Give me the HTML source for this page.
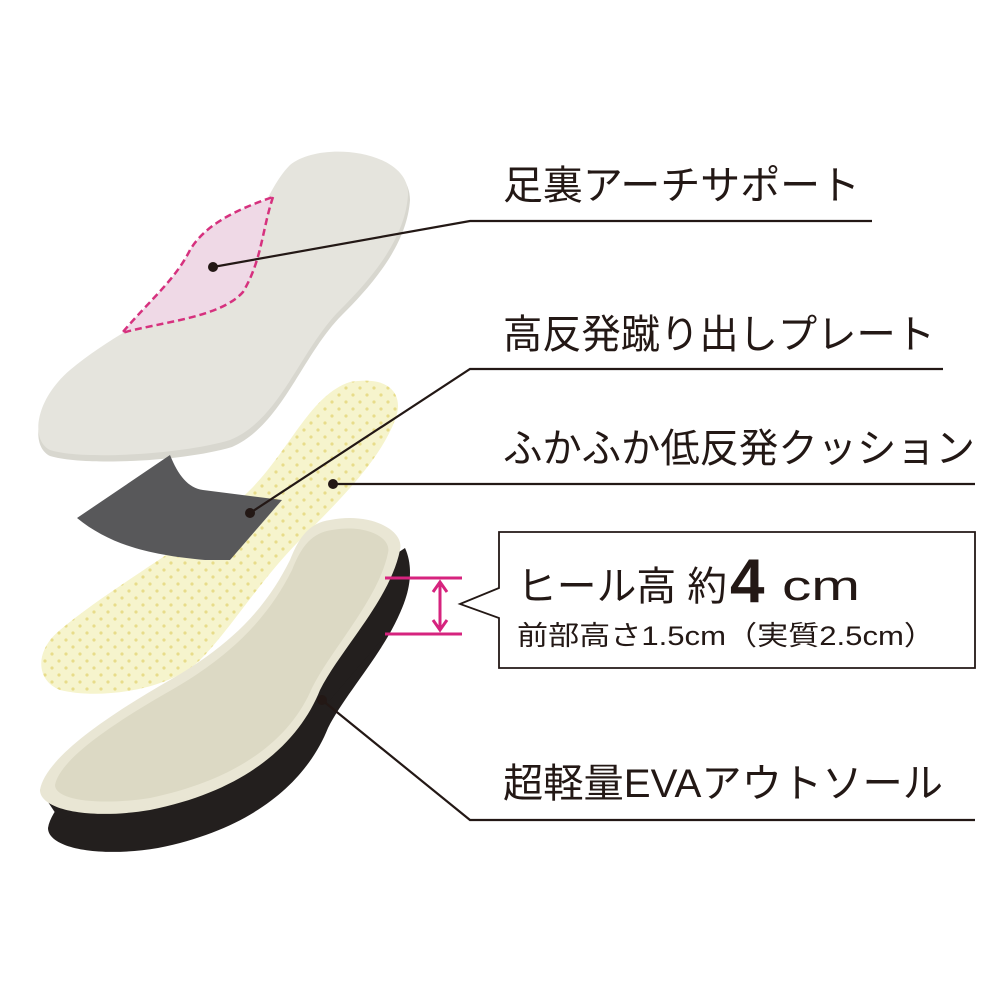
<!DOCTYPE html>
<html><head><meta charset="utf-8"><style>
html,body{margin:0;padding:0;background:#fff;}
svg{display:block}
text{font-family:"Liberation Sans","Noto Sans CJK JP",sans-serif;fill:#231815;}
</style></head><body>
<svg width="1000" height="1000" viewBox="0 0 1000 1000" xmlns="http://www.w3.org/2000/svg">
<defs>
<pattern id="dots" width="14" height="14" patternUnits="userSpaceOnUse">
<circle cx="3" cy="3" r="1.6" fill="#e8dc8a"/>
<circle cx="10" cy="10" r="1.6" fill="#e8dc8a"/>
</pattern>
</defs>

<path d="M290,172 C320,143 410,150 410,200 C407,245 372,285 342,315 C302,355 282,425 232,447 C182,462 82,466 50,456 C30,446 35,406 70,376 C130,326 200,306 240,256 C260,226 270,192 290,172Z" fill="#d8d7cf"/>
<path d="M290,165 C320,140 410,150 408,195 C405,240 370,280 340,310 C300,350 280,420 230,440 C180,455 80,460 50,450 C30,440 35,400 70,370 C130,320 200,300 240,250 C260,220 270,185 290,165Z" fill="#e5e4dd"/>
<path d="M273,197 C262,230 262,260 243,292 C220,318 160,322 122,333 C150,300 175,280 190,250 C205,225 235,210 273,197Z" fill="#efd9e6" stroke="#d6317e" stroke-width="2.5" stroke-dasharray="7,4"/>

<path d="M350,382 C390,375 405,395 395,420 C380,460 340,500 300,540 C260,580 230,630 200,660 C170,690 100,700 60,690 C35,680 35,650 60,630 C120,580 200,540 250,490 C290,450 310,395 350,382Z" fill="#f6f4cd"/>
<path d="M350,382 C390,375 405,395 395,420 C380,460 340,500 300,540 C260,580 230,630 200,660 C170,690 100,700 60,690 C35,680 35,650 60,630 C120,580 200,540 250,490 C290,450 310,395 350,382Z" fill="url(#dots)"/>

<path d="M77,518 L170,455 C178,475 188,488 203,490 L282,500 L230,560 L205,560 C150,555 110,545 77,518Z" fill="#58585a"/>

<path d="M338,558 C378,550 413,568 408,588 C398,638 348,688 328,728 C308,778 258,828 158,848 C98,858 48,848 48,828 C53,798 108,758 178,718 C248,678 278,638 298,598 C308,573 318,561 338,558Z" fill="#231f1e"/>
<path d="M405,548 C415,570 410,600 390,630 L330,700 L60,820 L40,790 Z" fill="#231f1e"/>
<path d="M330,520 C370,512 405,530 400,550 C390,600 340,650 320,690 C300,740 250,790 150,810 C90,820 40,810 40,790 C45,760 100,720 170,680 C240,640 270,600 290,560 C300,535 310,523 330,520Z" fill="#e9e6d4"/>
<path d="M332,530 C365,524 392,537 388,553 C378,600 332,648 312,688 C292,735 245,778 150,798 C98,806 55,800 55,785 C60,760 108,726 175,688 C240,650 272,610 292,570 C302,545 312,533 332,530Z" fill="#dcd9c4"/>

<g stroke="#231815" stroke-width="2.2" fill="none">
<path d="M213,267 L470,221 L872,221"/>
<path d="M250,513 L470,369 L943,369"/>
<path d="M333,484 L975,484"/>
<path d="M322,700 L470,820 L975,820"/>
</g>
<g fill="#231815">
<circle cx="213" cy="267" r="5"/>
<circle cx="250" cy="513" r="5"/>
<circle cx="333" cy="484" r="5"/>
<circle cx="322" cy="700" r="5"/>
</g>

<g stroke="#d6237e" stroke-width="3" fill="none">
<path d="M385,578 L462,578 M385,634 L462,634 M440,582 L440,630"/>
</g>
<path d="M433,592 L440,582 L447,592 M433,620 L440,630 L447,620" stroke="#d6237e" stroke-width="3" fill="none"/>

<path d="M499,532 L975,532 L975,668 L499,668 L499,618 L460,604 L499,588 Z" fill="#fff" stroke="#231815" stroke-width="1.8"/>

<text x="503" y="199" font-size="40" textLength="357" lengthAdjust="spacingAndGlyphs">足裏アーチサポート</text>
<text x="503" y="348" font-size="40" textLength="432" lengthAdjust="spacingAndGlyphs">高反発蹴り出しプレート</text>
<text x="503" y="462" font-size="40" textLength="472" lengthAdjust="spacingAndGlyphs">ふかふか低反発クッション</text>
<text x="503" y="797" font-size="40" textLength="440" lengthAdjust="spacingAndGlyphs">超軽量EVAアウトソール</text>
<text x="517" y="600" font-size="40" textLength="210" lengthAdjust="spacingAndGlyphs">ヒール高  約</text>
<text x="730" y="602" font-size="62" font-weight="bold">4</text>
<text x="782" y="600" font-size="42" textLength="78" lengthAdjust="spacingAndGlyphs">cm</text>
<text x="517" y="645" font-size="27" textLength="418" lengthAdjust="spacingAndGlyphs">前部高さ1.5cm（実質2.5cm）</text>
</svg>
</body></html>
